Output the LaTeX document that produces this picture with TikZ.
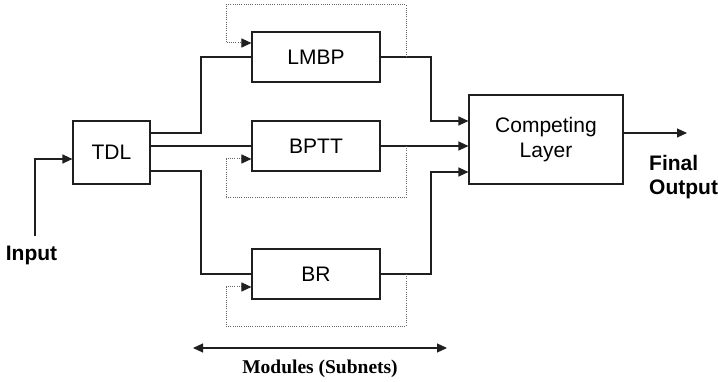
\documentclass[tikz,border=0pt]{standalone}
\usepackage{fontspec}
\setmainfont{Liberation Serif}
\setsansfont{Liberation Sans}
\usetikzlibrary{arrows.meta}
\begin{document}
\begin{tikzpicture}[x=1pt,y=-1pt,
  ink/.style={draw=black!88},
  box/.style={ink, line width=1.1pt, rectangle, inner sep=0pt,
    font=\sffamily\fontsize{21}{25}\selectfont, align=center},
  wire/.style={ink, line width=1.1pt},
  tip/.style={wire, -{Triangle[length=10pt,width=9pt]}},
  fb/.style={draw=black!60, line width=1pt, dash pattern=on 1pt off 1.2pt,
    -{Triangle[length=10pt,width=9pt,fill=black!88,color=black!88]}},
  lbl/.style={font=\sffamily\bfseries\fontsize{21}{24}\selectfont, inner sep=0pt}
]
\useasboundingbox (0,0) rectangle (718,382);

% processing blocks
\node[box, minimum width=77pt, minimum height=63pt] (TDL) at (111.5,152.5) {TDL};
\node[box, minimum width=128pt, minimum height=50pt] (LMBP) at (316,57) {LMBP};
\node[box, minimum width=128pt, minimum height=50pt] (BPTT) at (316,146) {BPTT};
\node[box, minimum width=128pt, minimum height=50pt] (BR) at (316,274) {BR};
\node[box, minimum width=154pt, minimum height=89pt] (CL) at (546,139.5) {Competing\\Layer};

% input
\coordinate (in) at (35,236);
\draw[tip] (in) |- (TDL.west |- 0,159);
\node[lbl, anchor=base] (inlbl) at (31.5,261) {Input};

% fan-out from the delay line
\draw[wire] (TDL.east |- 0,133) -- (201,133) |- (LMBP.west);
\draw[wire] (TDL.east |- BPTT.west) -- (BPTT.west);
\draw[wire] (TDL.east |- 0,171) -- (201,171) |- (BR.west);

% module outputs into the competing layer
\draw[tip] (LMBP.east) -- (431,57) |- (CL.west |- 0,121);
\draw[tip] (BPTT.east) -- (CL.west |- BPTT.east);
\draw[tip] (BR.east) -- (431,274) |- (CL.west |- 0,172);

% feedback loops
\draw[fb] (406,57) -- (406,5) -- (226,5) |- (LMBP.west |- 0,43);
\draw[fb] (406,146) -- (406,198) -- (226,198) |- (BPTT.west |- 0,159);
\draw[fb] (406,274) -- (406,326) -- (226,326) |- (BR.west |- 0,287);

% final output
\coordinate (out) at (687,133);
\draw[tip] (CL.east |- out) -- (out);
\node[lbl, anchor=base west] (fin1) at (649,171) {Final};
\node[lbl, anchor=base west] (fin2) at (649,195) {Output};

% module span
\coordinate (ml) at (193,348);
\coordinate (mr) at (447,348);
\draw[wire, {Triangle[length=10pt,width=9pt]}-{Triangle[length=10pt,width=9pt]}] (ml) -- (mr);
\node[font=\rmfamily\bfseries\fontsize{19.5}{22}\selectfont, anchor=base, inner sep=0pt] (mod) at (320,373) {Modules (Subnets)};
\end{tikzpicture}
\end{document}
